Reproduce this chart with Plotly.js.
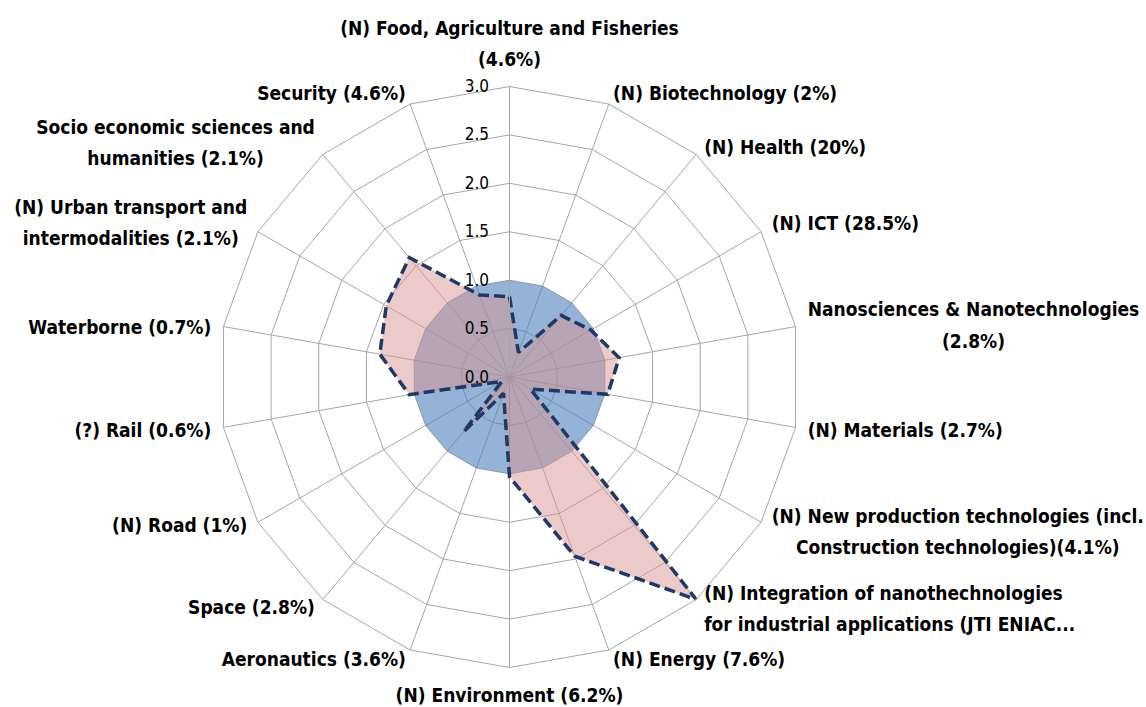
<!DOCTYPE html>
<html>
<head>
<meta charset="utf-8">
<script src="https://cdn.plot.ly/plotly-3.0.1.min.js"></script>
<style>
  html, body { margin: 0; padding: 0; background: #ffffff; }
  #chart { width: 1146px; height: 707px; }
</style>
</head>
<body>
<div id="chart"></div>
<script>
// Categories, clockwise from the top
const categories = [
  "(N) Food, Agriculture and Fisheries<br>(4.6%)",
  "(N) Biotechnology (2%)",
  "(N) Health (20%)",
  "(N) ICT (28.5%)",
  "Nanosciences & Nanotechnologies<br>(2.8%)",
  "(N) Materials (2.7%)",
  "(N) New production technologies (incl.<br>Construction technologies)(4.1%)",
  "(N) Integration of nanothechnologies<br>for industrial applications (JTI ENIAC...",
  "(N) Energy (7.6%)",
  "(N) Environment (6.2%)",
  "Aeronautics (3.6%)",
  "Space (2.8%)",
  "(N) Road (1%)",
  "(?) Rail (0.6%)",
  "Waterborne (0.7%)",
  "(N) Urban transport and<br>intermodalities (2.1%)",
  "Socio economic sciences and<br>humanities (2.1%)",
  "Security (4.6%)"
];

// Reference series (blue filled area)
const referenceValues = [1.0, 1.0, 1.0, 1.0, 1.0, 1.0, 1.0, 1.0, 1.0, 1.0, 1.0, 1.0, 1.0, 1.0, 1.0, 1.0, 1.0, 1.0];

// Specialisation series (pink filled area, dashed outline)
const seriesValues = [0.83, 0.27, 0.83, 0.97, 1.15, 1.03, 0.25, 3.0, 1.97, 1.03, 0.18, 0.74, 0.09, 1.05, 1.36, 1.47, 1.61, 0.90];

// Radial tick values
const radialTicks = [0, 0.5, 1.0, 1.5, 2.0, 2.5, 3.0];

function closed(arr) { return arr.concat([arr[0]]); }

const FONT = '"DejaVu Sans Condensed", "Liberation Sans Narrow", "DejaVu Sans", sans-serif';

const traces = [
  {
    type: 'scatterpolar',
    r: closed(referenceValues),
    theta: closed(categories),
    mode: 'lines',
    fill: 'toself',
    fillcolor: 'rgba(79,129,189,0.6)',
    line: { width: 0, color: 'rgba(79,129,189,0)' },
    hoverinfo: 'skip',
    showlegend: false
  },
  {
    type: 'scatterpolar',
    r: closed(seriesValues),
    theta: closed(categories),
    mode: 'lines',
    fill: 'toself',
    fillcolor: 'rgba(217,149,148,0.5)',
    line: { width: 3.5, color: '#1f3864', dash: '11px,5px' },
    hoverinfo: 'skip',
    showlegend: false
  }
];

const layout = {
  width: 1146,
  height: 707,
  margin: { l: 218.5, r: 345.5, t: 85.7, b: 39.3, pad: 0 },
  paper_bgcolor: '#ffffff',
  plot_bgcolor: '#ffffff',
  showlegend: false,
  font: { family: FONT, size: 18, color: '#000000' },
  polar: {
    bgcolor: '#ffffff',
    gridshape: 'linear',
    radialaxis: {
      range: [0, 3],
      tickvals: radialTicks,
      tickformat: '.1f',
      angle: 90,
      side: 'counterclockwise',
      tickangle: 90,
      showline: true,
      linecolor: '#a6a6a6',
      linewidth: 1,
      gridcolor: '#a6a6a6',
      gridwidth: 1,
      ticks: 'outside',
      ticklen: 14,
      tickcolor: 'rgba(0,0,0,0)',
      tickfont: { family: FONT, size: 17, color: '#000000' }
    },
    angularaxis: {
      rotation: 90,
      direction: 'clockwise',
      showline: true,
      linecolor: '#a6a6a6',
      linewidth: 1,
      gridcolor: '#a6a6a6',
      gridwidth: 1,
      ticks: 'outside',
      ticklen: 8,
      tickcolor: 'rgba(0,0,0,0)',
      tickfont: { family: FONT, size: 19, color: '#000000', weight: 'bold' }
    }
  }
};

Plotly.newPlot('chart', traces, layout, { displayModeBar: false, staticPlot: true }).then(function (gd) {
  // Label typesetting closer to the reference: centred lines, wider line spacing,
  // and a slight vertical placement tweak depending on the side of the chart.
  const plain = categories.map(function (c) { return c.replace(/<br>/g, ''); });
  const leftAligned = { 7: true };           // truncated label kept left-aligned
  const extraNudge = { 3: -6, 7: -8, 16: 5 };
  const texts = gd.querySelectorAll('svg.main-svg text');
  texts.forEach(function (t) {
    const idx = plain.indexOf(t.textContent);
    if (idx < 0) return;
    const a = (90 - 20 * idx) * Math.PI / 180;
    const s = Math.sin(a), c = Math.cos(a);
    let shiftY = 0;
    const lines = t.querySelectorAll('tspan.line');
    if (lines.length > 1) {
      const bb0 = t.getBBox();
      lines.forEach(function (ln, i) { if (i > 0) ln.setAttribute('dy', '1.65em'); });
      const bb1 = t.getBBox();
      if (!leftAligned[idx]) {
        const cx = bb1.x + bb1.width / 2;
        t.setAttribute('text-anchor', 'middle');
        t.setAttribute('x', cx);
        lines.forEach(function (ln) { ln.setAttribute('x', cx); });
      }
      if (Math.abs(c) < 0.1 && s > 0) {
        shiftY = (bb0.y + bb0.height) - (bb1.y + bb1.height);
      } else {
        shiftY = (bb0.y + bb0.height / 2) - (bb1.y + bb1.height / 2);
      }
    }
    let nudge;
    if (Math.abs(c) < 0.1) nudge = s > 0 ? -4 : 3;
    else if (s < -0.3) nudge = -16 * Math.sqrt(-s);
    else if (s < 0) nudge = -2;
    else nudge = 9 * Math.sqrt(s);
    nudge += extraNudge[idx] || 0;
    const tr = t.getAttribute('transform') || '';
    t.setAttribute('transform', tr + ' translate(0,' + (shiftY + nudge).toFixed(2) + ')');
  });
});
</script>
</body>
</html>
